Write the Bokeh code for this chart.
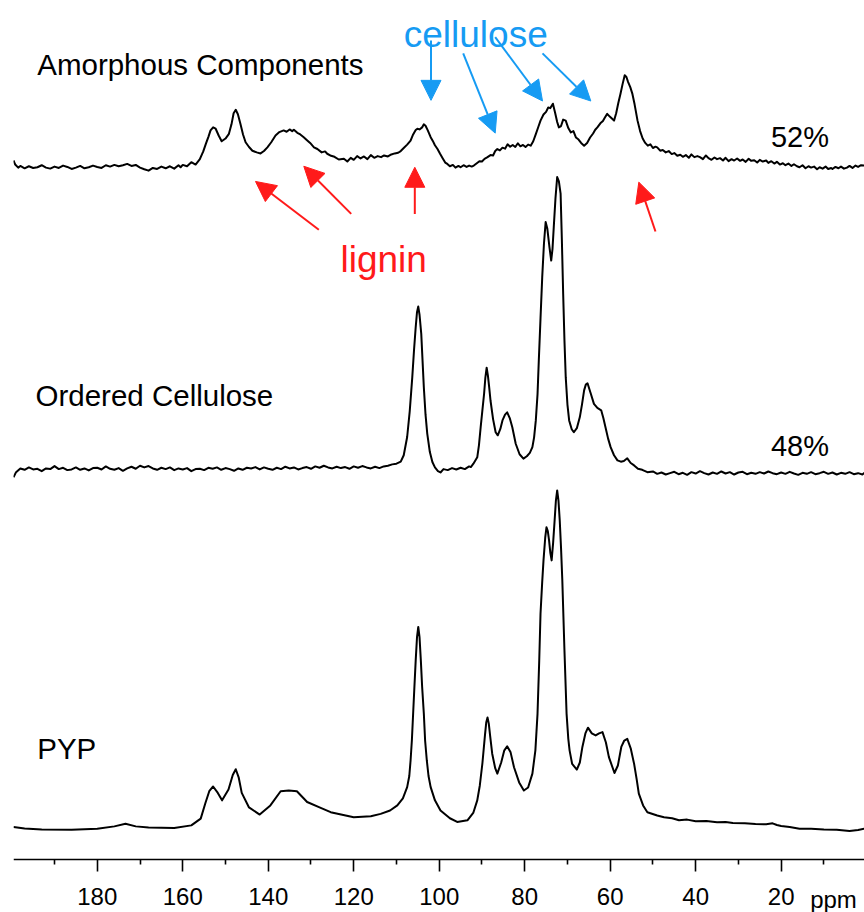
from bokeh.plotting import figure
from bokeh.models import Range1d, FixedTicker, Label, Arrow, NormalHead
from bokeh.embed import file_html
from bokeh.resources import INLINE

# ---------------- data (ppm, intensity) ----------------
pyp = [(199.6,0.4),(197,0.0),(193,-0.3),(186,-0.4),(180,-0.1),(176,0.6),(173.4,1.4),(171,0.6),
       (168,0.3),(162,0.1),(158,0.9),(155.8,2.9),(154.7,7.5),(153.8,11.0),(152.9,12.4),(151.8,10.5),
       (150.8,8.3),(149.3,11.5),(148.3,15.8),(147.6,17.5),(146.9,15.0),(146.2,10.5),(144.5,6.2),
       (142.0,4.1),(139.5,6.8),(137.1,11.0),(135.2,11.2),(133.3,11.0),(130.9,7.8),(128,6.2),
       (125.4,4.8),(120,3.3),(116,3.6),(113.7,4.3),(111.5,5.3),(109.8,6.8),(108.5,8.9),(107.5,12.2),
       (107.0,15.5),(106.7,20.1),(106.4,26.0),(106.1,34.0),(105.8,42.0),(105.5,49.7),(105.2,56.5),
       (104.9,59.6),(104.6,56.5),(104.3,49.7),(104.0,42.0),(103.6,34.0),(103.3,26.0),(102.9,20.1),
       (102.5,15.5),(102,12.2),(101,8.3),(99.7,5.3),(97.5,3.0),(95.8,1.9),(93.4,2.4),(92,4.7),
       (91.1,8.3),(90.5,12.7),(89.9,19.2),(89.3,27.5),(89.0,31.3),(88.7,32.8),(88.4,31.0),
       (88.1,27.5),(87.6,22.1),(86.9,17.8),(86.4,16.2),(85.5,19.5),(84.8,23.0),(84.1,24.3),
       (83.3,22.5),(82.5,18.1),(81.3,13.6),(80.2,11.2),(79.2,12.1),(78.2,16.2),(77.5,23.1),
       (77.0,33.9),(76.6,49.7),(76.3,63.5),(75.9,73.0),(75.6,79.3),(75.2,86.0),(74.9,89.1),
       (74.6,88.0),(74.3,85.2),(74.0,81.5),(73.7,79.3),(73.35,84.5),(73.0,91.1),(72.7,97.0),
       (72.4,100.0),(72.1,97.0),(71.8,91.1),(71.5,83.0),(71.2,73.4),(70.7,52.7),(70.2,33.9),
       (69.8,26.5),(69.5,23.1),(68.9,19.1),(67.8,17.4),(67.1,19.5),(66.5,24.1),(65.8,28.1),
       (65.2,29.8),(64.3,28.1),(63.4,27.5),(62.6,28.1),(61.8,28.5),(61.0,25.4),(60.3,21.1),
       (59.0,16.4),(58.2,18.6),(57.4,24.1),(56.7,26.0),(56.0,26.5),(55.2,23.7),(54.4,19.1),
       (53.8,14.5),(53.3,10.3),(52.3,6.8),(51.3,4.8),(49,3.8),(47.4,3.3),(45.5,3.0),(43.9,2.4),
       (42,2.6),(40,2.1),(37.5,2.2),(35,1.8),(33,1.9),(31.3,1.6),(28.5,1.5),(26,1.3),(23.5,1.2),
       (22,1.5),(21,1.0),(20,0.7),(18,0.4),(15.7,-0.1),(13,-0.1),(10,-0.3),(7,-0.4),(4,-0.8),
       (2,-0.5),(0.5,-0.1)]

ordered = [(199.6,-2.0),(199,-0.5),(198,0.6),(197,0.2),(196,0.9),(195,0.3),(194,0.5),(193,-0.2),
       (192,0.6),(191,0.4),(190,1.3),(189,0.4),(188,0.8),(187,0.1),(186,0.3),(185,0.9),(184,0.2),
       (183,0.6),(182,0.0),(181,0.7),(180,0.8),(179,0.3),(178,1.2),(177,0.5),(176,0.2),(175,0.7),
       (174,-0.1),(173,0.6),(172,1.1),(171,0.5),(170,1.4),(169,0.9),(168,1.3),(167,0.6),(166,0.2),
       (165,0.8),(164,0.4),(163,0.9),(162,0.1),(161,0.6),(160,0.3),(159,0.7),(158,-0.2),(157,0.4),
       (156,0.5),(155,0.1),(154,0.8),(153,0.5),(152,0.9),(151,0.2),(150,0.7),(149,0.4),(148,-0.1),
       (147,0.6),(146,0.2),(145,0.8),(144,0.6),(143,1.0),(142,0.3),(141,0.9),(140,0.5),(139,0.2),
       (138,0.8),(137,0.4),(136,1.1),(135,0.6),(134,0.9),(133,0.3),(132,0.7),(131,1.0),(130,0.5),
       (129,1.2),(128,0.8),(127,1.4),(126,0.9),(125,0.6),(124,1.1),(123,0.7),(122,1.0),(121,0.5),
       (120,1.2),(119,0.8),(118,1.3),(117,0.9),(116,0.6),(115,1.1),(114,0.7),(113,1.2),(112,1.4),
       (111,1.8),(110,2.0),(109,2.6),(108.3,4.5),(107.5,9.9),(106.9,17.5),(106.3,27.6),(105.9,35.5),
       (105.5,42.4),(105.2,46.8),(104.9,48.5),(104.6,46.0),(104.2,40.4),(103.9,32.5),(103.6,24.6),
       (103.2,16.5),(102.8,10.9),(102.2,5.5),(101.6,2.5),
       (101,0.9),(100.3,-0.2),(99.7,-0.6),(99,0.4),(98,0.1),(97,0.7),(96,0.3),(95,0.8),(94,0.4),
       (93,1.2),(92.6,1.0),(92,2.0),(91.1,3.9),(90.7,7.5),(90.3,12.8),(89.9,17.8),(89.5,22.7),
       (89.2,27.5),(88.9,30.4),(88.6,28.0),(88.3,24.5),(88.0,20.7),(87.4,15.2),(86.8,11.3),
       (86.3,10.4),(85.7,12.3),(85.2,14.8),(84.6,16.5),(84.1,17.2),(83.5,15.5),(82.9,12.8),
       (82.1,7.9),(81.2,4.8),(80.3,3.5),
       (79.5,4.2),(78.8,5.2),(78.2,6.9),(77.8,9.8),(77.4,14.8),(77.0,22.5),(76.7,32.5),(76.3,45.0),
       (75.9,57.2),(75.5,67.0),(75.1,73.5),(74.7,71.5),(74.2,66.0),(73.8,62.1),(73.5,65.5),
       (73.2,72.0),(72.8,80.5),(72.4,86.8),(72.0,85.5),(71.6,81.9),(71.3,68.0),(71.0,52.3),
       (70.7,38.5),(70.4,27.6),(70.0,19.5),(69.6,14.8),(69.0,12.2),(68.5,11.3),(67.8,12.5),
       (67.1,15.8),(66.6,19.5),(66.1,23.7),(65.7,25.4),(65.3,25.8),(64.6,23.0),(63.8,19.7),
       (63.0,18.5),(62.1,17.8),(61.6,15.5),(61.1,12.8),(60.5,9.5),(59.9,6.9),(59.1,4.5),(58.3,3.0),
       (57.5,2.6),(56.8,2.8),(56.0,3.6),(55.2,2.2),(54.4,1.5),(53.5,0.5),(52.5,0.2),(51.3,-0.5),
       (50,-0.3),(49,-1.0),(48,-0.6),(47,-1.2),(46,-0.8),(45,-0.4),(44,-1.1),(43,-0.7),(42,-1.3),
       (41,-0.5),(40,-0.9),(39,-0.2),(38,-0.8),(37,-1.2),(36,-0.6),(35,-1.0),(34,-0.3),(33,-0.9),
       (32,-0.5),(31,-1.2),(30,-0.6),(29,-0.4),(28,-1.1),(27,-0.7),(26,-1.0),(25,-0.5),(24,-0.9),
       (23,-0.3),(22,-0.8),(21,-1.1),(20,-0.6),(19,-1.0),(18,-0.4),(17,-0.9),(16,-1.3),(15,-0.7),
       (14,-1.0),(13,-0.5),(12,-1.1),(11,-0.8),(10,-0.4),(9,-1.0),(8,-0.6),(7,-1.2),(6,-0.7),
       (5,-1.0),(4,-0.5),(3,-1.1),(2,-0.8),(1,-1.2),(0.5,-0.7)]

amorphous = [(199.6,1.8),(199.2,0.6),(198.5,-0.3),(198,0.2),(197,-0.5),(196,0.1),(195,-0.4),
       (194,-0.2),(193,0.4),(192,-0.3),(191,-0.6),(190,0.0),(189,-0.4),(188,0.3),(187,-0.1),
       (186,-0.7),(185,-0.3),(184,0.2),(183,-0.5),(182,-0.2),(181,0.3),(180,-0.1),(179,-0.4),
       (178,0.4),(177,0.0),(176,0.5),(175,0.1),(174,0.4),(173,0.8),(172,0.2),(171,0.5),(170,-0.3),
       (169,-0.8),(168,-1.2),(167,-0.4),(166,-0.7),(165,0.0),(164,-0.5),(163,0.1),(162,-0.6),
       (161,0.4),(160.5,-0.2),(160,0.5),(159,0.1),(158,1.3),(157,0.6),(156,2.2),(155.8,2.8),
       (155.2,4.5),(154.6,6.7),(154,8.8),(153.5,10.7),(152.9,11.6),(152.3,11.2),(151.6,9.2),
       (150.9,7.5),(150,8.3),(149.2,9.7),(148.6,12.5),(148.1,15.8),(147.6,16.8),(147.1,15.5),
       (146.5,12.6),(145.9,9.5),(145.3,7.2),(144.5,5.8),(143.7,4.7),(142.7,4.2),(141.8,3.9),
       (141,4.6),(140.2,5.7),(139.3,7.2),(138.3,9.2),(137.4,10.2),(136.4,10.7),(135.7,10.3),
       (135,11.0),(134.4,10.5),(134,10.9),(133.2,10.0),(132.5,9.5),(131.7,8.7),(131,7.9),
       (130.2,7.0),(129.3,5.7),(128.5,5.2),(127.5,4.2),(126.7,4.5),(126.2,3.8),(125.3,3.2),
       (124.5,2.9),(123.5,2.1),(122.3,2.3),(121.5,1.5),(120.7,2.6),(120,2.0),(119.2,3.1),
       (118.4,2.4),(117.6,3.0),(116.8,2.2),(116,3.4),(115.2,2.6),(114.4,3.1),(113.6,2.8),
       (112.9,3.3),(112,3.0),(111.2,3.6),(110.4,3.9),(109.6,4.1),(109,4.6),(108.3,5.5),(107.5,6.5),
       (106.7,7.7),(106.1,9.5),(105.5,10.8),(105.1,11.2),(104.6,11.0),(104.0,11.6),(103.6,12.5),
       (103.2,12.1),(102.7,10.8),(102,8.7),(101.5,7.6),(101,6.3),(100.4,5.2),(99.8,3.8),(99.2,2.5),
       (98.6,1.2),(98.1,0.8),(97.5,0.1),(96.8,0.5),(96.2,-0.3),(95.5,0.2),(95,-0.2),(94.3,0.4),
       (93.6,-0.1),(93,0.3),(92.4,0.0),(91.9,0.3),(91.2,1.0),(90.6,1.6),(90,1.5),(89.4,2.3),
       (88.7,2.8),(88,3.4),(87.4,3.3),(86.9,4.6),(86.4,5.2),(85.8,4.8),(85.2,5.6),(84.6,5.3),
       (84,6.6),(83.4,5.9),(82.8,6.4),(82.2,5.8),(81.6,6.9),(81,6.0),(80.4,6.4),(79.8,5.8),
       (79.2,6.5),(78.6,6.2),(78,7.5),(77.4,9.6),(76.8,11.8),(76.3,13.6),(75.6,15.4),(75,16.2),
       (74.5,17.5),(74,17.3),(73.4,18.6),(72.9,16.0),(72.4,13.2),(72,11.6),(71.5,12.0),(71,13.9),
       (70.4,13.6),(69.8,11.4),(69.2,10.1),(68.6,10.5),(68,8.6),(67.4,8.0),(66.8,7.0),(66.1,6.2),
       (65.4,7.0),(64.7,8.6),(64,9.8),(63.5,10.9),(63,11.6),(62.3,12.8),(61.7,13.5),(61.2,14.6),
       (60.7,15.6),(60.1,14.8),(59.6,14.2),(59.1,13.6),(58.6,15.8),(58.1,18.8),(57.6,21.5),
       (57.1,24.4),(56.6,27.0),(56.2,26.5),(55.8,25.0),(55.3,23.5),(54.8,21.5),(54.3,18.5),
       (53.6,13.6),(53,10.5),(52.4,8.3),(51.8,7.0),(51.2,6.2),(50.6,6.6),(50,5.5),(49.4,5.9),
       (49,5.7),(48.3,4.7),(47.7,4.9),(47,4.2),(46.3,4.6),(45.6,3.7),(45,4.0),(44.3,3.2),(43.6,3.5),
       (43,2.9),(42.3,3.4),(41.6,2.6),(41,3.6),(40.3,2.8),(39.6,3.1),(39,2.8),(38.3,2.2),(37.6,3.3),
       (37,2.5),(36.3,2.0),(35.6,2.7),(35,2.2),(34.3,2.5),(33.6,1.8),(33,2.6),(32.3,1.6),(31.6,2.2),
       (31,1.8),(30.3,2.4),(29.6,1.7),(29,2.1),(28.3,1.4),(27.6,2.3),(27,1.7),(26.3,1.9),(25.6,1.2),
       (25,2.0),(24.3,1.5),(23.5,1.8),(23,1.1),(22.3,1.6),(21.6,0.9),(21,1.4),(20.3,0.6),(19.6,1.0),
       (19,0.4),(18.3,0.9),(17.6,0.2),(17,0.7),(16.3,0.1),(15.7,-0.2),(15,0.4),(14.3,-0.5),
       (13.6,0.1),(13,-0.3),(12.3,0.0),(11.6,-0.8),(11,-0.2),(10.3,-0.6),(9.6,0.0),(9,-0.7),
       (8.3,-0.4),(8,-0.7),(7.3,-0.1),(6.6,-0.5),(6,0.0),(5.3,-0.6),(4.6,-0.3),(4,0.2),(3.3,-0.4),
       (2.6,0.3),(2,-0.1),(1.3,0.4),(0.5,0.3)]

pyp_ppm = [a for a, b in pyp]
pyp_int = [b for a, b in pyp]
ord_ppm = [a for a, b in ordered]
ord_int = [b for a, b in ordered]
amo_ppm = [a for a, b in amorphous]
amo_int = [b for a, b in amorphous]

major_ticks = [180, 160, 140, 120, 100, 80, 60, 40, 20]
minor_ticks = [190, 170, 150, 130, 110, 90, 70, 50, 30, 10]

trace_names = ["Amorphous Components", "Ordered Cellulose", "PYP"]
fractions = ["52%", "48%"]

# ---------------- layout constants ----------------
OFF_PYP, OFF_ORD, OFF_AMO = 9.2, 115.1, 205.0
FONT = "Liberation Sans"
BLUE = "#169BF3"
RED = "#FF1A1A"

p = figure(width=864, height=912, output_backend="svg", toolbar_location=None,
           x_range=Range1d(199.6, 0.5), y_range=Range1d(-15.68, 254.14),
           y_axis_location=None, min_border_left=13, min_border_right=0,
           min_border_top=0, min_border_bottom=0)
p.outline_line_color = None
p.xgrid.visible = False
p.ygrid.visible = False
p.background_fill_color = "white"
p.border_fill_color = "white"

ax = p.xaxis[0]
ax.fixed_location = 0
ax.ticker = FixedTicker(ticks=major_ticks, minor_ticks=minor_ticks)
ax.axis_line_width = 1.6
ax.axis_line_color = "black"
ax.major_tick_line_width = 1.6
ax.minor_tick_line_width = 1.6
ax.major_tick_in = 0
ax.major_tick_out = 12
ax.minor_tick_in = 0
ax.minor_tick_out = 5
ax.major_label_standoff = 16
ax.major_label_text_font = FONT
ax.major_label_text_font_size = "24px"
ax.major_label_text_color = "black"

for ppm, inten, off in [(pyp_ppm, pyp_int, OFF_PYP), (ord_ppm, ord_int, OFF_ORD),
                        (amo_ppm, amo_int, OFF_AMO)]:
    p.line(ppm, [off + v for v in inten], line_color="black", line_width=2.0,
           line_join="round")

def lab(x, y, text, color="black", size="29.5px", align="left"):
    p.add_layout(Label(x=x, y=y, text=text, text_font=FONT, text_font_size=size,
                       text_color=color, text_align=align, text_baseline="alphabetic"))

lab(194.05, 235.2, trace_names[0])
lab(194.45, 137.3, trace_names[1])
lab(194.05, 32.9, trace_names[2])
lab(22.4, 213.7, fractions[0], size="29px")
lab(22.4, 122.2, fractions[1], size="29px")
lab(108.3, 244.1, "cellulose", BLUE, "37px")
lab(123.1, 177.5, "lignin", RED, "37px")
lab(7.75, -11.9, "ppm", "black", "24px", "center")

blue_arrows = [((101.92, 242.3), (101.92, 224.6)), ((94.39, 238.5), (86.90, 214.9)),
               ((86.90, 243.3), (75.83, 224.4)), ((75.83, 238.5), (64.53, 224.4))]
red_arrows = [((128.17, 186.3), (142.98, 200.6)), ((120.59, 191.0), (131.68, 205.1)),
              ((105.71, 191.0), (105.71, 204.8)), ((49.4, 185.8), (53.3, 200.4))]
for arrows, col in [(blue_arrows, BLUE), (red_arrows, RED)]:
    for (x0, y0), (x1, y1) in arrows:
        p.add_layout(Arrow(end=NormalHead(size=20, fill_color=col, line_color=col, line_width=1),
                           x_start=x0, y_start=y0, x_end=x1, y_end=y1,
                           line_color=col, line_width=2))

open("out.html", "w").write(file_html(p, INLINE))
